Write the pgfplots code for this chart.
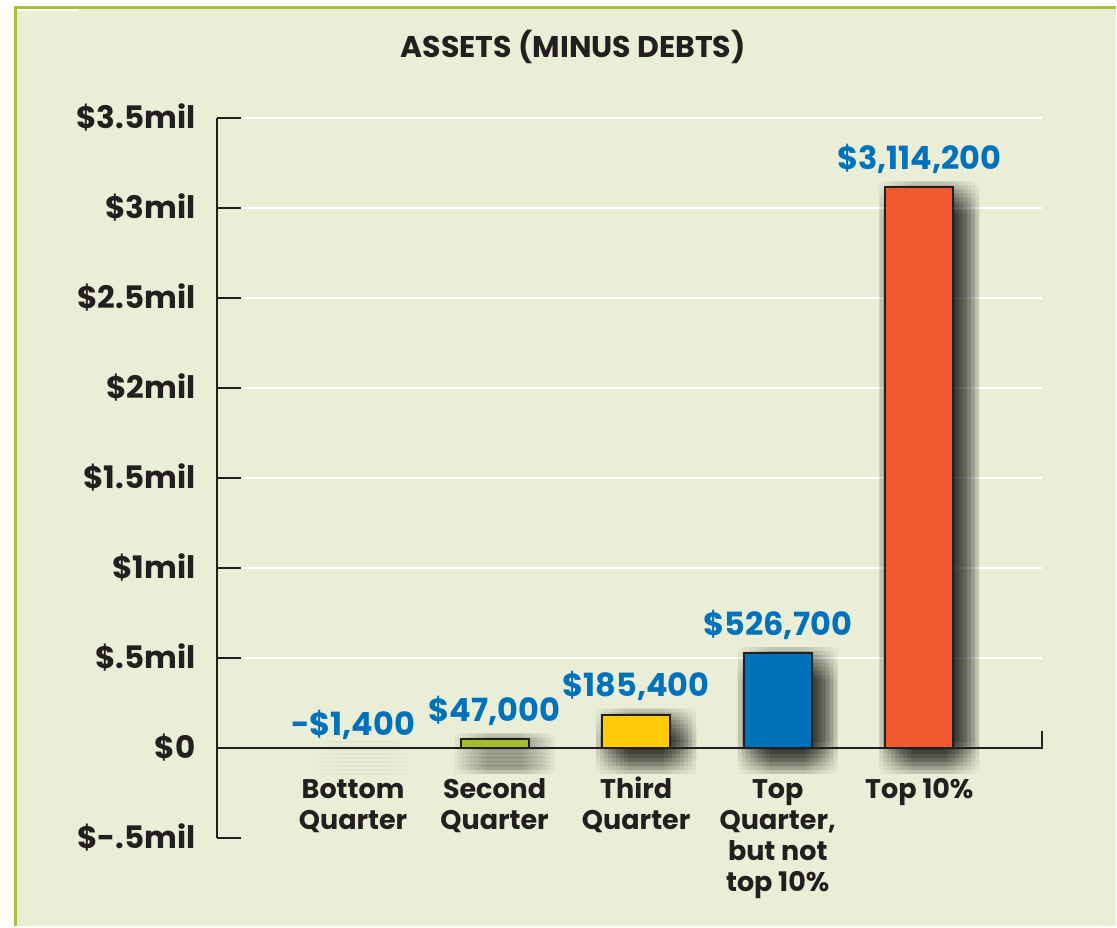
\documentclass[border=0pt]{standalone}
\usepackage{fontspec}
\setmainfont{Poppins}
\usepackage{pgfplots}
\usepackage{pgfplotstable}
\pgfplotsset{compat=1.18}

\definecolor{bg}{HTML}{EAEED6}
\definecolor{edge}{HTML}{A6C13A}
\definecolor{ink}{HTML}{231F20}
\definecolor{lblue}{HTML}{0072BC}
\definecolor{cred}{HTML}{F15A30}
\definecolor{cgreen}{HTML}{A3BD31}
\definecolor{cyellow}{HTML}{FFCB0B}
\definecolor{cblue}{HTML}{0071BB}

% net assets, millions of dollars
\pgfplotstableread{
x y
0 -0.0014
1 0.047
2 0.1854
3 0.5267
4 3.1142
}\assets

% one column of faint shadow copies, shifted right by #1 pt
\newcommand\shadowcol[1]{%
\pgfplotsinvokeforeach{3,1,-1,-3,-5,-7,-9,-11,-13}{%
\addplot[forget plot,fill=black,fill opacity=0.021,draw=none,shift={(#1pt,##1pt)}] table[x=x,y=y] {\assets};
}}

\begin{document}
\begin{tikzpicture}
% page frame, in pixels of the reference
\begin{scope}[x=0.5pt,y=-0.5pt,shift={(-108.5pt,419.5pt)}]
\fill[white] (0,0) rectangle (1117,927);
\fill[bg] (15,7) rectangle (1117,927);
\draw[edge,line width=1.5pt] (15.5,927) -- (15.5,7.5) -- (1117,7.5);
\draw[white,line width=1pt] (17,10) -- (78,10);
\node[font=\bfseries\fontsize{15}{17}\selectfont,text=ink] at (574,47) {ASSETS (MINUS DEBTS)};
\end{scope}

\begin{axis}[
scale only axis,width=413pt,height=360.5pt,
at={(0pt,0pt)},anchor=south west,
xmin=-0.963,xmax=4.864,ymin=-0.5,ymax=3.5,
axis x line=middle,axis y line=left,
x axis line style={draw=none},
y axis line style={-,draw=ink,line width=1pt},
ytick={-0.5,0},yticklabels={\$-.5mil,\$0},
extra y ticks={0.5,1,1.5,2,2.5,3,3.5},
extra y tick labels={\$.5mil,\$1mil,\$1.5mil,\$2mil,\$2.5mil,\$3mil,\$3.5mil},
extra y tick style={grid=major},
major grid style={white,line width=1pt},
ytick align=inside,major tick length=12pt,
ytick style={draw=ink,line width=1pt},
xtick={0,1,2,3,4},
xticklabels={\strut Bottom\\Quarter,\strut Second\\Quarter,\strut Third\\Quarter,{\strut Top\\Quarter,\\but not\\top 10\%},\strut Top 10\%},
xtick style={draw=none},
yticklabel style={font=\bfseries\fontsize{15.5}{18}\selectfont,text=ink,inner sep=0pt,xshift=-10.5pt},
xticklabel style={font=\bfseries\fontsize{13.5}{15.6}\selectfont,text=ink,align=center,anchor=north,inner sep=0pt,yshift=-2pt},
ybar,bar width=34pt,bar shift=0pt,
clip=false,
every node near coord/.append style={font=\bfseries\fontsize{16}{18}\selectfont,text=lblue,anchor=base,yshift=9pt},
]
% soft drop shadow: many faint copies of the bars, offset down and right
\shadowcol{-3}
\shadowcol{-1}
\shadowcol{1}
\shadowcol{3}
\shadowcol{5}
\shadowcol{7}
\shadowcol{9}
\shadowcol{11}
\shadowcol{13}
\addplot[fill=cred,draw=ink,line width=1pt,nodes near coords={-\$1,400},
  every node near coord/.append style={yshift=-2.5pt}] coordinates {(0,-0.0014)};
\addplot[fill=cgreen,draw=ink,line width=1pt,nodes near coords={\$47,000}] coordinates {(1,0.047)};
\addplot[fill=cyellow,draw=ink,line width=1pt,nodes near coords={\$185,400}] coordinates {(2,0.1854)};
\addplot[fill=cblue,draw=ink,line width=1pt,nodes near coords={\$526,700}] coordinates {(3,0.5267)};
\addplot[fill=cred,draw=ink,line width=1pt,nodes near coords={\$3,114,200}] coordinates {(4,3.1142)};
\draw[ink,line width=1pt] (rel axis cs:0,0.125) -- (rel axis cs:1,0.125) -- ++(0pt,8.5pt);
\end{axis}
\end{tikzpicture}
\end{document}
